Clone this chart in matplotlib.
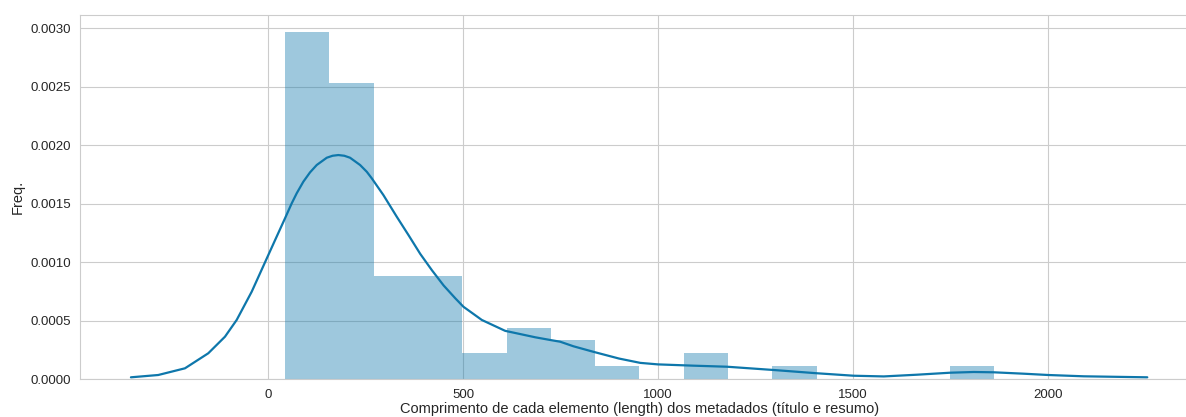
# Distribuição do comprimento dos metadados (título e resumo)

import numpy as np
import matplotlib.pyplot as plt
import seaborn as sns

# histograma: 16 classes a partir de 42.9, largura 113.7
bin_left = 42.9
bin_width = 113.7
counts = [27, 23, 8, 8, 2, 4, 3, 1, 0, 2, 0, 1, 0, 0, 0, 1]

# curva KDE (pontos lidos da estimativa de densidade)
kde_x = [-352.6, -282.5, -213.9, -154.1, -111.2, -81.2, -42.6, -8.5, 17.2,
         42.9, 60.1, 72.9, 89.9, 107.1, 124.3, 150.0, 165.0, 179.8, 195.0, 209.8,
         235.5, 252.7, 265.5, 295.3, 329.7, 360.0, 390.0, 420.0, 450.0, 480.0,
         500.8, 548.0, 607.9, 684.9, 723.0, 749.1, 783.0, 835.0, 900.0, 954.5,
         1000.0, 1091.4, 1177.2, 1296.9, 1408.3, 1502.3, 1579.4, 1665.1,
         1750.6, 1810.5, 1861.8, 1938.9, 2001.5, 2093.0, 2255.8]
kde_y = [0.0000145, 0.0000342, 0.0000915, 0.000220, 0.000362, 0.000505, 0.000747, 0.000998, 0.001187,
         0.001375, 0.001503, 0.001589, 0.001688, 0.001768, 0.001831, 0.001893, 0.001910, 0.001916, 0.001910, 0.001893,
         0.001831, 0.001773, 0.001717, 0.001574, 0.001388, 0.001230, 0.001070, 0.000930, 0.000800, 0.000690,
         0.000618, 0.000505, 0.000412, 0.000357, 0.000334, 0.000319, 0.000280, 0.000232, 0.000175, 0.000138,
         0.000125, 0.000114, 0.000105, 0.000077, 0.000049, 0.000028, 0.000022, 0.0000368,
         0.0000539, 0.0000599, 0.0000573, 0.0000453, 0.0000342, 0.000023, 0.0000145]

x_ticks = [0, 500, 1000, 1500, 2000]
y_ticks = [0.0, 0.0005, 0.0010, 0.0015, 0.0020, 0.0025, 0.0030]

sns.set_style("whitegrid")
plt.rcParams['font.family'] = ['Liberation Sans', 'DejaVu Sans']

counts = np.array(counts)
edges = bin_left + np.arange(len(counts) + 1) * bin_width
density = counts / (counts.sum() * bin_width)

color = '#0e77ab'

fig = plt.figure(figsize=(11.86, 4.17), dpi=100)
ax = fig.add_axes([80.1 / 1186, 38 / 417, 1118 / 1186, 364.3 / 417])

ax.bar(edges[:-1], density, width=bin_width, align='edge', color=color, alpha=0.4, linewidth=0)
ax.plot(kde_x, kde_y, color=color, lw=1.6)

ax.set_xticks(x_ticks)
ax.set_yticks(y_ticks)
ax.set_yticklabels(['%.4f' % v for v in y_ticks])
ax.tick_params(labelsize=9.5, colors='#262626')
ax.tick_params(axis='x', pad=4)
ax.tick_params(axis='y', pad=3)
ax.set_xlabel('Comprimento de cada elemento (length) dos metadados (título e resumo)',
              fontsize=10.5, color='#262626', labelpad=0.5)
ax.set_ylabel('Freq.', fontsize=10.5, color='#262626', labelpad=4)

fig.savefig('out.png', dpi=100)
